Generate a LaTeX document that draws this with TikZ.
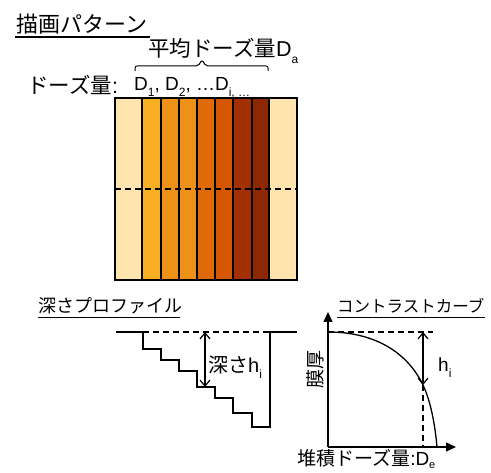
\documentclass[tikz,border=0pt]{standalone}
\usepackage{fontspec}
\setmainfont{Liberation Sans}
\newfontfamily\jp{Noto Sans CJK JP}
\usetikzlibrary{arrows.meta}
\newcommand\mysub[1]{\raisebox{-0.28em}{\fontsize{12}{12}\selectfont #1}}
\newcommand\mysubs[1]{\raisebox{-0.15em}{\fontsize{11}{11}\selectfont #1}}
\definecolor{pale}{HTML}{FFE4AE}
\definecolor{sA}{HTML}{F9AF23}
\definecolor{sB}{HTML}{EE9118}
\definecolor{sC}{HTML}{E06A07}
\definecolor{sD}{HTML}{D65602}
\definecolor{sE}{HTML}{A33002}
\definecolor{sF}{HTML}{8E2803}
\tikzset{
  lbl/.style={anchor=base west, inner sep=0pt},
  strip/.style={draw=black, line width=1.6pt},
  ln/.style={line width=1.3pt},
  dsh/.style={line width=1.2pt, dash pattern=on 6pt off 4pt},
  dbl/.style={line width=1.2pt, {Straight Barb[length=6pt,width=10pt]}-{Straight Barb[length=6pt,width=10pt]}},
  axis/.style={line width=1.3pt, -{Triangle[length=10pt,width=9pt]}},
}
\begin{document}
\begin{tikzpicture}[x=1pt,y=-1pt]
\useasboundingbox (0,0) rectangle (491,473);
% titles
\node[lbl, font=\jp\fontsize{22}{26}\selectfont] (title) at (16,33) {描画パターン};
\draw[ln] (15,37) -- (150,37);
\node[lbl, font=\fontsize{21.5}{26}\selectfont] (avg) at (148,57) {{\jp 平均ドーズ量}D\mysub{a}};
\draw[line width=1pt, rounded corners=2pt] (135,71) -- (135,66) -- (198,66) -- (202,60) -- (206,66) -- (268,66) -- (268,71);
\node[lbl, font=\fontsize{21.5}{26}\selectfont] (dose) at (27,94) {{\jp ドーズ量}:};
\node[lbl, font=\fontsize{19}{24}\selectfont] (dlist) at (134,91) {D\mysub{1}, D\mysub{2}, \dots D\mysub{i, \dots}};
% pattern
\fill[pale] (115,98) rectangle (142,280);
\fill[sA] (142,98) rectangle (161,280);
\fill[sB] (161,98) rectangle (179,280);
\fill[sB] (179,98) rectangle (197,280);
\fill[sC] (197,98) rectangle (215,280);
\fill[sD] (215,98) rectangle (233,280);
\fill[sE] (233,98) rectangle (252,280);
\fill[sF] (252,98) rectangle (269,280);
\fill[pale] (269,98) rectangle (297,280);
\foreach \x in {142,161,179,197,215,233,252,269} \draw[line width=1.6pt] (\x,98) -- (\x,280);
\draw[strip] (115,98) rectangle (297,280);
\draw[dsh] (115,189) -- (297,189);
% depth profile
\node[lbl, font=\jp\fontsize{18}{22}\selectfont] (dtitle) at (38,313) {深さプロファイル};
\draw[line width=1pt] (38,318) -- (180,318);
\draw[ln] (116,332) -- (143,332) -- (143,349) -- (161,349) -- (161,360) -- (179,360) -- (179,371) -- (197,371) -- (197,387) -- (215,387) -- (215,398) -- (233,398) -- (233,413) -- (252,413) -- (252,427) -- (270,427) -- (270,332) -- (297,332);
\draw[dsh] (143,332) -- (270,332);
\coordinate (dtop) at (205,332);
\coordinate (dbot) at (205,387);
\draw[dbl] (dtop) -- (dbot);
\node[lbl, font=\fontsize{20}{24}\selectfont] (dlab) at (208,373) {{\jp 深さ}h\mysub{i}};
% contrast curve
\node[lbl, font=\jp\fontsize{16.5}{20}\selectfont] (ctitle) at (337,313) {コントラストカーブ};
\draw[line width=1pt] (337,318) -- (485,318);
\coordinate (o) at (328,447);
\coordinate (ytop) at (328,312);
\coordinate (xend) at (456,447);
\draw[axis] (o) -- (ytop);
\draw[axis] (o) -- (xend);
\coordinate (c0) at (328,332);
\coordinate (ci) at (423,385);
\coordinate (c1) at (437,447);
\draw[dsh] (c0) -- (433,332);
\draw[ln] (c0) .. controls (372,332) and (406,350) .. (ci) .. controls (431,402) and (435,425) .. (c1);
\coordinate (htop) at (423,332);
\draw[dbl] (htop) -- (ci);
\draw[dsh] (ci) -- (423,447);
\node[lbl, font=\fontsize{19}{22}\selectfont] (hlab) at (438,372) {h\mysub{i}};
\node[font=\jp\fontsize{19}{22}\selectfont, rotate=90, inner sep=0pt] (thick) at (315,370) {膜厚};
\node[lbl, font=\fontsize{19}{22}\selectfont] (xlab) at (297,466) {{\jp 堆積ドーズ量}:D\mysubs{e}};
\end{tikzpicture}
\end{document}
